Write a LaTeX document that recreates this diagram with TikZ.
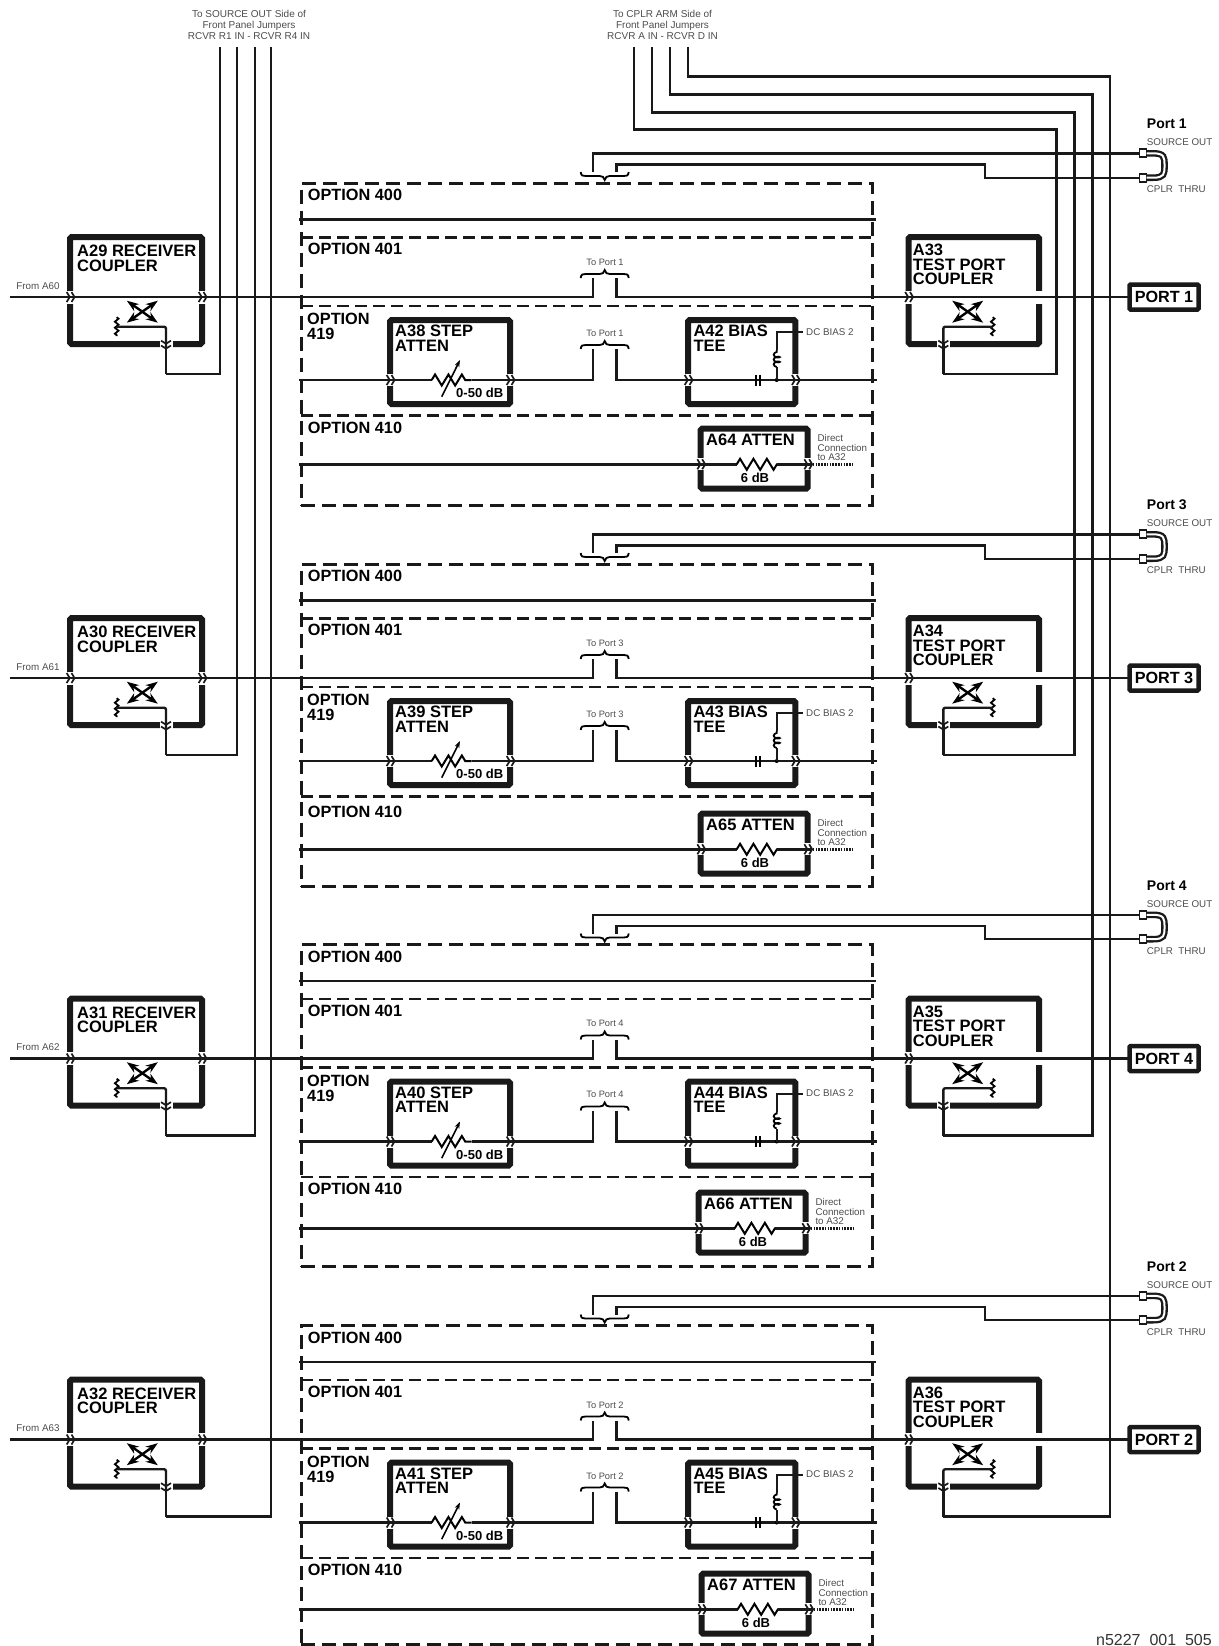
\documentclass[tikz,border=0pt]{standalone}
\usepackage{fontspec}
\setmainfont{Liberation Sans}
\usepackage{tikz}
\usetikzlibrary{arrows.meta,positioning,decorations.pathmorphing}

\begin{document}
\begin{tikzpicture}[
    x=1pt, y=-1pt,
    wire/.style={line width=2.4pt, color=black!90},
    chev/.style={-{Straight Barb[length=3pt,width=10pt,line width=1.7pt]Straight Barb[length=3pt,width=10pt,line width=1.7pt]}, shorten >=-5.5pt},
    gapline/.style={draw=white, line width=7.5pt},
    unitbox/.style={rectangle, draw=black!90, line width=6pt, rounded corners=1.5pt, inner sep=0pt, outer sep=0pt},
    cplrbox/.style={unitbox, minimum height=107pt},
    stepbox/.style={unitbox, minimum height=84pt},
    attbox/.style={unitbox, minimum width=107pt, minimum height=60pt},
    portbox/.style={rectangle, draw=black!90, line width=4.5pt, rounded corners=1pt, minimum width=69pt, minimum height=25pt, inner sep=0pt, outer sep=0pt, font=\bfseries\fontsize{16.2}{16.2}\selectfont},
    optframe/.style={rectangle, anchor=north, draw=black!90, line width=3pt, dash pattern=on 14pt off 7pt, minimum width=571pt, inner sep=0pt, outer sep=0pt},
    optline/.style={draw=black!90, line width=2.5pt, dash pattern=on 12pt off 6pt},
    optlabel/.style={anchor=west, align=left, inner sep=0pt, font=\bfseries\fontsize{16.3}{15}\selectfont},
    boxtitle/.style={anchor=north west, align=left, inner sep=0pt, font=\bfseries\fontsize{16.5}{14.5}\selectfont},
    valuetext/.style={inner sep=0pt, font=\bfseries\fontsize{13}{13}\selectfont},
    smalltext/.style={inner sep=0pt, text=black!70, align=left, font=\fontsize{9.8}{9.4}\selectfont},
    toplabel/.style={inner sep=0pt, text=black!70, align=center, font=\fontsize{10}{11.2}\selectfont},
    portname/.style={anchor=west, inner sep=0pt, font=\bfseries\fontsize{14}{14}\selectfont},
    jack/.style={rectangle, draw=black!90, fill=white, line width=1.8pt, minimum width=7pt, minimum height=8pt, inner sep=0pt, outer sep=0pt},
    jumper/.style={draw=black!90, line width=2.3pt, double=white, double distance=2pt},
    zig/.style={line width=2pt, decorate, decoration={zigzag, segment length=13.4pt, amplitude=5.5pt}},
    coilline/.style={line width=1.8pt, decorate, decoration={coil, aspect=0.5, segment length=4.8pt, amplitude=3pt}},
    xcross/.pic={
        \draw[line width=2.4pt, {Stealth[length=12pt,width=8.5pt]}-{Stealth[length=12pt,width=8.5pt]}] (-15.5,-11) -- (15.5,11);
        \draw[line width=2.4pt, {Stealth[length=12pt,width=8.5pt]}-{Stealth[length=12pt,width=8.5pt]}] (-15.5,11) -- (15.5,-11);
    },
    loadterm/.pic={
        \draw[line width=1.8pt, decorate, decoration={zigzag, segment length=6pt, amplitude=1.8pt}] (0,-9.5) -- (0,9.5);
    },
    jbrace/.pic={
        \draw[line width=1.8pt] (-24,4) .. controls (-23.5,0) and (-22,0) .. (-19,0) -- (-5,0)
            .. controls (-2,0) and (-1,-1) .. (0,-4) .. controls (1,-1) and (2,0) .. (5,0)
            -- (19,0) .. controls (22,0) and (23.5,0) .. (24,4);
    }
]
    \useasboundingbox (0,0) rectangle (1218,1646);

    \node[toplabel] (srclabel) at (249,25) {To SOURCE OUT Side of\\Front Panel Jumpers\\RCVR R1 IN - RCVR R4 IN};
    \node[toplabel] (armlabel) at (662.5,25) {To CPLR ARM Side of\\Front Panel Jumpers\\RCVR A IN - RCVR D IN};
    \node[anchor=base east, inner sep=0pt, text=black!80, font=\fontsize{16}{16}\selectfont] (partno) at (1212,1645.5) {n5227\_001\_505};

    \foreach \i/\dy/\ax/\ay/\oy/\fh/\rcv/\tpc/\stp/\bia/\atn/\prt/\frm/\xl/\xt/\yt/\xv in {
        1/0/0/0/0/321.7/29/33/38/42/64/1/60/220/634/129.3/1056.5,
        2/381/0/4/3/321.7/30/34/39/43/65/3/61/237/652/112.3/1074.5,
        3/761.5/-2/2.5/0/321.7/31/35/40/44/66/4/62/255/670/94.3/1092.5,
        4/1142.5/1/2.5/0/318.7/32/36/41/45/67/2/63/271/688/76.3/1110}
    {
    \begin{scope}[shift={(0,\dy)}]
        \coordinate (main\i) at (10,297);
        \coordinate (ln400\i) at (299,219.5);
        \coordinate (ln419\i) at (299,380);
        \coordinate (ln410\i) at (299,464.3+\ay);

        \node[cplrbox, minimum width=132pt] (rcv\i) at (136,290.5) {};
        \node[cplrbox, minimum width=130.5pt] (tpc\i) at (973.75,290.5) {};
        \node[optframe, minimum height=\fh pt] (opt\i) at (586.5,183.3) {};
        \node[stepbox, minimum width=120pt] (stp\i) at (450,362) {};
        \node[stepbox, minimum width=107.3pt, right=178pt of stp\i] (bia\i) {};
        \node[attbox] (atn\i) at (754.2+\ax,458.7+\ay) {};
        \node[portbox] (prtb\i) at (1164,297) {PORT \prt};

        \node[boxtitle] (rcvt\i) at ([shift={(7,8)}]rcv\i.north west) {A\rcv\ RECEIVER\\COUPLER};
        \node[boxtitle] (tpct\i) at ([shift={(4.2,7)}]tpc\i.north west) {A\tpc\\TEST PORT\\COUPLER};
        \node[boxtitle] (stpt\i) at ([shift={(5,5)}]stp\i.north west) {A\stp\ STEP\\ATTEN};
        \node[boxtitle] (biat\i) at ([shift={(5.3,5)}]bia\i.north west) {A\bia\ BIAS\\TEE};
        \node[boxtitle] (atnt\i) at ([shift={(5.3,5.4)}]atn\i.north west) {A\atn\ ATTEN};
        \node[optlabel] (o400\i) at (307.7,195) {OPTION 400};
        \node[optlabel] (o401\i) at (307.7,249.3) {OPTION 401};
        \node[optlabel] (o419\i) at (307,326.5) {OPTION\\419};
        \node[optlabel] (o410\i) at (307.7,427.5+\oy) {OPTION 410};

        \node[smalltext] (from\i) at (38,286) {From A\frm};
        \node[smalltext, anchor=west] (dcb\i) at (806,332) {DC BIAS 2};
        \node[smalltext, anchor=west] (dirc\i) at (817.3+\ax,447.7+\ay) {Direct\\Connection\\to A32};
        \node[smalltext, font=\fontsize{9.3}{9.3}\selectfont] (to401\i) at (605,262.3) {To Port \prt};
        \node[smalltext, font=\fontsize{9.3}{9.3}\selectfont] (to419\i) at (605,333.3) {To Port \prt};
        \node[valuetext] (dbs\i) at (479.7,393.3) {0-50 dB};
        \node[valuetext] (dba\i) at (755+\ax,478.3+\ay) {6 dB};

        \node[portname] (pname\i) at (1146.7,124) {Port \prt};
        \node[smalltext, anchor=west] (psrc\i) at (1146.7,142.3) {SOURCE OUT};
        \node[smalltext, anchor=west] (pthr\i) at (1146.7,189.3) {CPLR\ \ THRU};
        \node[jack] (jsrc\i) at (1143,153.3) {};
        \node[jack] (jthr\i) at (1143,177.7) {};
        \draw[jumper] (jsrc\i.east) -- ++(6,0) .. controls (1164.5,153.3) and (1164.5,157) .. (1164.5,165.5)
            .. controls (1164.5,174) and (1164.5,177.7) .. (1153,177.7) -- (jthr\i.east);

        \foreach \yy in {237.3,306,415.6}
            \draw[optline] (301,\yy) -- (872,\yy);
        \draw[wire] (ln400\i) -- (ln400\i -| opt\i.east) -- ++(4,0);

        \coordinate (rcvd\i) at (166,374);
        \coordinate (rcvm\i) at (116.7,326.7);
        \coordinate (tpcd\i) at (943.3,374);
        \coordinate (tpcm\i) at (992.7,326.7);

        \foreach \pp in {rcv\i.west,rcv\i.east,tpc\i.west,tpc\i.east}
            \draw[gapline] ([yshift=6.5pt]\pp |- main\i) -- ([yshift=-6.5pt]\pp |- main\i);
        \foreach \pp in {stp\i.west,stp\i.east,bia\i.west,bia\i.east}
            \draw[gapline] ([yshift=6pt]\pp |- ln419\i) -- ([yshift=-6pt]\pp |- ln419\i);
        \foreach \pp in {atn\i.west,atn\i.east}
            \draw[gapline] ([yshift=6pt]\pp |- ln410\i) -- ([yshift=-6pt]\pp |- ln410\i);
        \draw[gapline] ([xshift=-6.5pt]rcvd\i |- rcv\i.south) -- ([xshift=6.5pt]rcvd\i |- rcv\i.south);
        \draw[gapline] ([xshift=-6.5pt]tpcd\i |- tpc\i.south) -- ([xshift=6.5pt]tpcd\i |- tpc\i.south);

        \pic at (142.3,311.7) {xcross};
        \pic at (967.7,311.7) {xcross};
        \pic at (rcvm\i) {loadterm};
        \pic at (tpcm\i) {loadterm};
        \pic[yscale=-1] at (604.7,176) {jbrace};
        \pic at (604.7,274) {jbrace};
        \pic at (604.7,345) {jbrace};

        \coordinate (tl\i) at (593,172);
        \coordinate (tr\i) at (616.5,172);
        \coordinate (jog\i) at (985,164.3);
        \coordinate (bl401\i) at (593,278);
        \coordinate (br401\i) at (616.5,278);
        \coordinate (bl419\i) at (593,349);
        \coordinate (br419\i) at (616.5,349);

        \draw[wire] (jsrc\i.west) -| (tl\i);
        \draw[wire] (jthr\i.west) -| (jog\i) -| (tr\i);

        \draw[wire, chev] (main\i) -- (rcv\i.west |- main\i);
        \draw[wire, chev] (rcv\i.west |- main\i) -- (rcv\i.east |- main\i);
        \draw[wire] (rcv\i.east |- main\i) -| (bl401\i);
        \draw[wire, chev] (br401\i) |- (tpc\i.west |- main\i);
        \draw[wire] (tpc\i.west |- main\i) -- (prtb\i.west);

        \draw[wire, chev, rounded corners=2pt] (rcvm\i) -| (rcvd\i |- rcv\i.south);
        \draw[wire, chev, rounded corners=2pt] (tpcm\i) -| (tpcd\i |- tpc\i.south);

        \coordinate (rs1\i) at (431.7,380);
        \coordinate (rs2\i) at (471.7,380);
        \draw[wire, chev] (ln419\i) -- (stp\i.west |- ln419\i);
        \draw[wire] (stp\i.west |- ln419\i) -- (rs1\i);
        \draw[zig] (rs1\i) -- (rs2\i);
        \draw[wire, chev] (rs2\i) -- (stp\i.east |- ln419\i);
        \draw[line width=1.6pt, -{Stealth[length=7pt,width=5pt]}] (441.7,396.7) -- (460,360);
        \draw[wire] (stp\i.east |- ln419\i) -| (bl419\i);
        \draw[wire, chev] (br419\i) |- (bia\i.west |- ln419\i);
        \draw[wire, chev] (bia\i.west |- ln419\i) -- (bia\i.east |- ln419\i);
        \draw[wire] (bia\i.east |- ln419\i) -- (ln419\i -| opt\i.east) -- ++(4.5,0);

        \coordinate (cap\i) at (758,380);
        \coordinate (bj\i) at (776.7,380);
        \coordinate (coilb\i) at (776.7,367);
        \coordinate (coilt\i) at (776.7,350);
        \draw[line width=1.9pt] (cap\i) ++(-2,-5.5) -- ++(0,11) (cap\i) ++(2,-5.5) -- ++(0,11);
        \fill (bj\i) circle (2);
        \draw[wire, line width=2pt] (bj\i) -- (coilb\i);
        \draw[coilline] (coilb\i) -- (coilt\i);
        \draw[wire, line width=2pt, shorten >=3pt] (coilt\i) |- (dcb\i.west);

        \coordinate (ra1\i) at (736.7+\ax,464.3+\ay);
        \coordinate (ra2\i) at (777.3+\ax,464.3+\ay);
        \coordinate (dotend\i) at (853,464.3+\ay);
        \draw[wire, chev] (ln410\i) -- (atn\i.west |- ln410\i);
        \draw[wire] (atn\i.west |- ln410\i) -- (ra1\i);
        \draw[zig] (ra1\i) -- (ra2\i);
        \draw[wire, chev] (ra2\i) -- (atn\i.east |- ln410\i);
        \draw[wire, dash pattern=on 1.6pt off 1.2pt] ([xshift=5pt]atn\i.east |- ln410\i) -- (dotend\i);

        \draw[wire] (rcvd\i |- rcv\i.south) -- (rcvd\i);
        \draw[wire] (tpcd\i |- tpc\i.south) -- (tpcd\i);
    \end{scope}

    \coordinate (vl\i) at (\xl,47);
    \coordinate (vt\i) at (\xt,47);
    \coordinate (vc\i) at (\xv,\yt);
    \draw[wire] (vl\i) |- (rcvd\i);
    \draw[wire] (vt\i) |- (vc\i) |- (tpcd\i);
    }
\end{tikzpicture}
\end{document}
